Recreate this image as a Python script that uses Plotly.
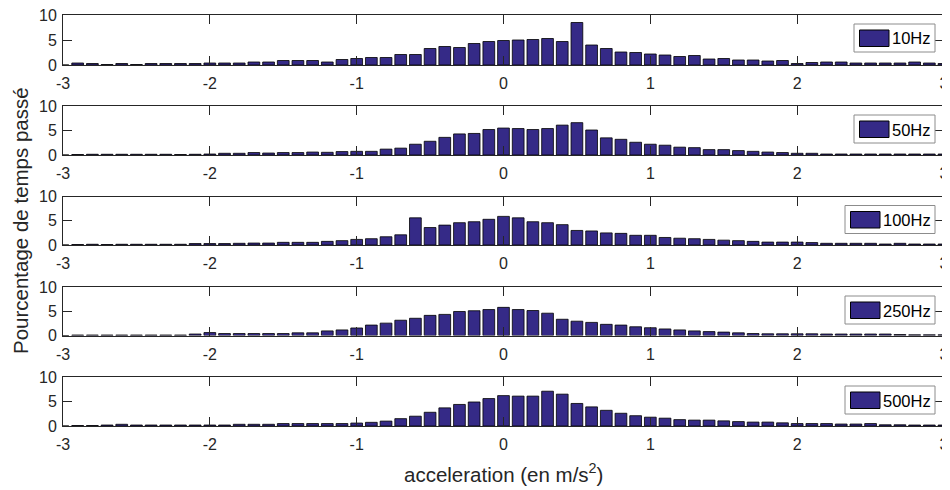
import numpy as np
import plotly.graph_objects as go
from plotly.subplots import make_subplots

# Bin centres (acceleration, m/s^2)
centers = [round(v / 10, 1) for v in range(-30, 31)]

labels = ["10Hz", "50Hz", "100Hz", "250Hz", "500Hz"]

hz10 = [0,
        0.4, 0.3, 0.1, 0.3, 0.1, 0.3, 0.3, 0.3, 0.3, 0.4,
        0.4, 0.4, 0.6, 0.6, 0.9, 0.9, 0.9, 0.6, 1.1, 1.3,
        1.5, 1.5, 2.1, 2.1, 3.3, 3.7, 3.5, 4.3, 4.7, 4.9,
        5.0, 5.1, 5.3, 4.7, 8.5, 4.0, 3.3, 2.6, 2.5, 2.2,
        2.0, 1.7, 1.9, 1.2, 1.3, 1.0, 1.0, 0.8, 0.9, 0.3,
        0.5, 0.6, 0.6, 0.4, 0.4, 0.4, 0.4, 0.6, 0.4, 0.3]

hz50 = [0,
        0.1, 0.15, 0.15, 0.15, 0.15, 0.15, 0.15, 0.1, 0.15, 0.2,
        0.35, 0.35, 0.5, 0.4, 0.5, 0.5, 0.6, 0.55, 0.7, 0.75,
        0.75, 1.2, 1.4, 2.2, 2.8, 3.6, 4.3, 4.4, 5.2, 5.5,
        5.4, 5.2, 5.4, 6.1, 6.6, 5.1, 3.5, 3.2, 2.6, 2.2,
        2.0, 1.6, 1.5, 1.1, 1.1, 0.9, 0.75, 0.6, 0.5, 0.35,
        0.35, 0.2, 0.2, 0.2, 0.2, 0.2, 0.2, 0.2, 0.2, 0.2]

hz100 = [0,
         0.1, 0.15, 0.1, 0.15, 0.15, 0.15, 0.15, 0.15, 0.3, 0.3,
         0.3, 0.35, 0.4, 0.4, 0.55, 0.55, 0.55, 0.75, 0.9, 1.15,
         1.3, 1.7, 2.1, 5.6, 3.6, 4.1, 4.6, 4.8, 5.3, 5.9,
         5.6, 4.8, 4.6, 4.2, 3.0, 2.9, 2.5, 2.4, 2.0, 2.0,
         1.55, 1.4, 1.3, 1.15, 1.0, 0.9, 0.75, 0.6, 0.6, 0.6,
         0.5, 0.35, 0.35, 0.35, 0.35, 0.2, 0.35, 0.2, 0.2, 0.2]

hz250 = [0,
         0.1, 0.1, 0.1, 0.1, 0.1, 0.1, 0.1, 0.1, 0.3, 0.6,
         0.4, 0.4, 0.4, 0.4, 0.4, 0.55, 0.55, 0.95, 1.15, 1.55,
         2.15, 2.55, 3.15, 3.55, 4.15, 4.35, 4.95, 5.1, 5.35, 5.8,
         5.35, 5.15, 4.6, 3.35, 2.95, 2.7, 2.3, 2.15, 1.8, 1.6,
         1.35, 1.15, 0.95, 0.8, 0.7, 0.55, 0.4, 0.35, 0.35, 0.35,
         0.35, 0.3, 0.3, 0.3, 0.3, 0.3, 0.2, 0.15, 0.15, 0.15]

hz500 = [0,
         0.1, 0.1, 0.2, 0.35, 0.2, 0.2, 0.2, 0.2, 0.2, 0.2,
         0.2, 0.35, 0.35, 0.35, 0.5, 0.5, 0.5, 0.5, 0.5, 0.6,
         0.75, 1.0, 1.5, 2.0, 2.8, 3.7, 4.4, 4.9, 5.6, 6.2,
         6.1, 6.1, 7.1, 6.5, 4.6, 3.9, 3.2, 2.6, 2.1, 1.8,
         1.6, 1.3, 1.2, 1.2, 1.05, 0.9, 0.8, 0.8, 0.65, 0.5,
         0.5, 0.5, 0.4, 0.4, 0.5, 0.25, 0.25, 0.2, 0.2, 0.2]

series = [hz10, hz50, hz100, hz250, hz500]

x_ticks = [-3, -2, -1, 0, 1, 2, 3]
x_ticktext = ["-3", "-2", "-1", "0", "1", "2", "3"]
y_ticks = [0, 5, 10]
y_ticktext = ["0", "5", "10"]

BAR = "#352A87"
AX = "#262626"
FONT = "Liberation Sans, Arial, Helvetica, sans-serif"

# layout geometry (page pixels; the page body adds an 8 px margin)
OFF = 8
W, H = 950 - OFF, 490 - OFF
L, R, T, B = 63, 944, 15, 426
tops = [15, 106, 196.5, 287, 377]
bots = [65, 155, 245, 335.5, 426]


def fx(px):
    return (px - L) / (R - L)


def fy(py):
    return (B - py) / (B - T)


fig = make_subplots(rows=5, cols=1)

for i, vals in enumerate(series):
    fig.add_trace(go.Bar(x=centers, y=vals, width=0.08, name=labels[i],
                         marker=dict(color=BAR, line=dict(color="black", width=0.8)),
                         showlegend=False), row=i + 1, col=1)

shapes = []
annotations = []
for i in range(5):
    k = "" if i == 0 else str(i + 1)
    fig.layout["xaxis" + k].update(
        domain=[0, 1], range=[-3, 3], tickvals=x_ticks, ticktext=x_ticktext,
        ticks="inside", ticklen=9, tickcolor=AX, tickwidth=1,
        showline=True, linecolor=AX, linewidth=1, mirror="ticks",
        showgrid=False, zeroline=False, ticklabelstandoff=4,
        automargin=False, ticklabeloverflow="allow",
        tickfont=dict(family=FONT, size=16, color=AX))
    fig.layout["yaxis" + k].update(
        domain=[fy(bots[i]), fy(tops[i])], range=[0, 10],
        tickvals=y_ticks, ticktext=y_ticktext,
        ticks="inside", ticklen=9, tickcolor=AX, tickwidth=1,
        showline=True, linecolor=AX, linewidth=1, mirror="ticks",
        showgrid=False, zeroline=False, ticklabelstandoff=2,
        automargin=False, ticklabeloverflow="allow",
        tickfont=dict(family=FONT, size=16, color=AX))

    # legend box
    t0 = tops[i]
    bw = 81 if len(labels[i]) == 4 else 90
    bx1 = 935
    bx0 = bx1 - bw
    by0, by1 = t0 + 9, t0 + 37
    shapes.append(dict(type="rect", xref="paper", yref="paper",
                       x0=fx(bx0), x1=fx(bx1), y0=fy(by1), y1=fy(by0),
                       fillcolor="white", line=dict(color="#8c8c8c", width=1),
                       layer="above"))
    shapes.append(dict(type="rect", xref="paper", yref="paper",
                       x0=fx(bx0 + 5.5), x1=fx(bx0 + 35), y0=fy(t0 + 31.5), y1=fy(t0 + 15),
                       fillcolor=BAR, line=dict(color="black", width=1),
                       layer="above"))
    annotations.append(dict(xref="paper", yref="paper", x=fx(933), y=fy(t0 + 23.5),
                            xanchor="right", yanchor="middle", showarrow=False,
                            text=labels[i],
                            font=dict(family=FONT, size=16.5, color="black")))

annotations.append(dict(xref="paper", yref="paper", x=fx(503.5), y=fy(473),
                        xanchor="center", yanchor="middle", showarrow=False,
                        text="acceleration (en m/s<sup>2</sup>)",
                        font=dict(family=FONT, size=20.5, color=AX)))
annotations.append(dict(xref="paper", yref="paper", x=fx(20), y=fy(221),
                        xanchor="center", yanchor="middle", showarrow=False,
                        textangle=-90, text="Pourcentage de temps passé",
                        font=dict(family=FONT, size=20.5, color=AX)))

fig.update_layout(
    width=W, height=H,
    margin=dict(l=L - OFF, r=W + OFF - R, t=T - OFF, b=H + OFF - B, autoexpand=False),
    paper_bgcolor="white", plot_bgcolor="white",
    bargap=0.2, showlegend=False,
    shapes=shapes, annotations=annotations,
    font=dict(family=FONT, color=AX),
)

fig.write_html("out.html")
